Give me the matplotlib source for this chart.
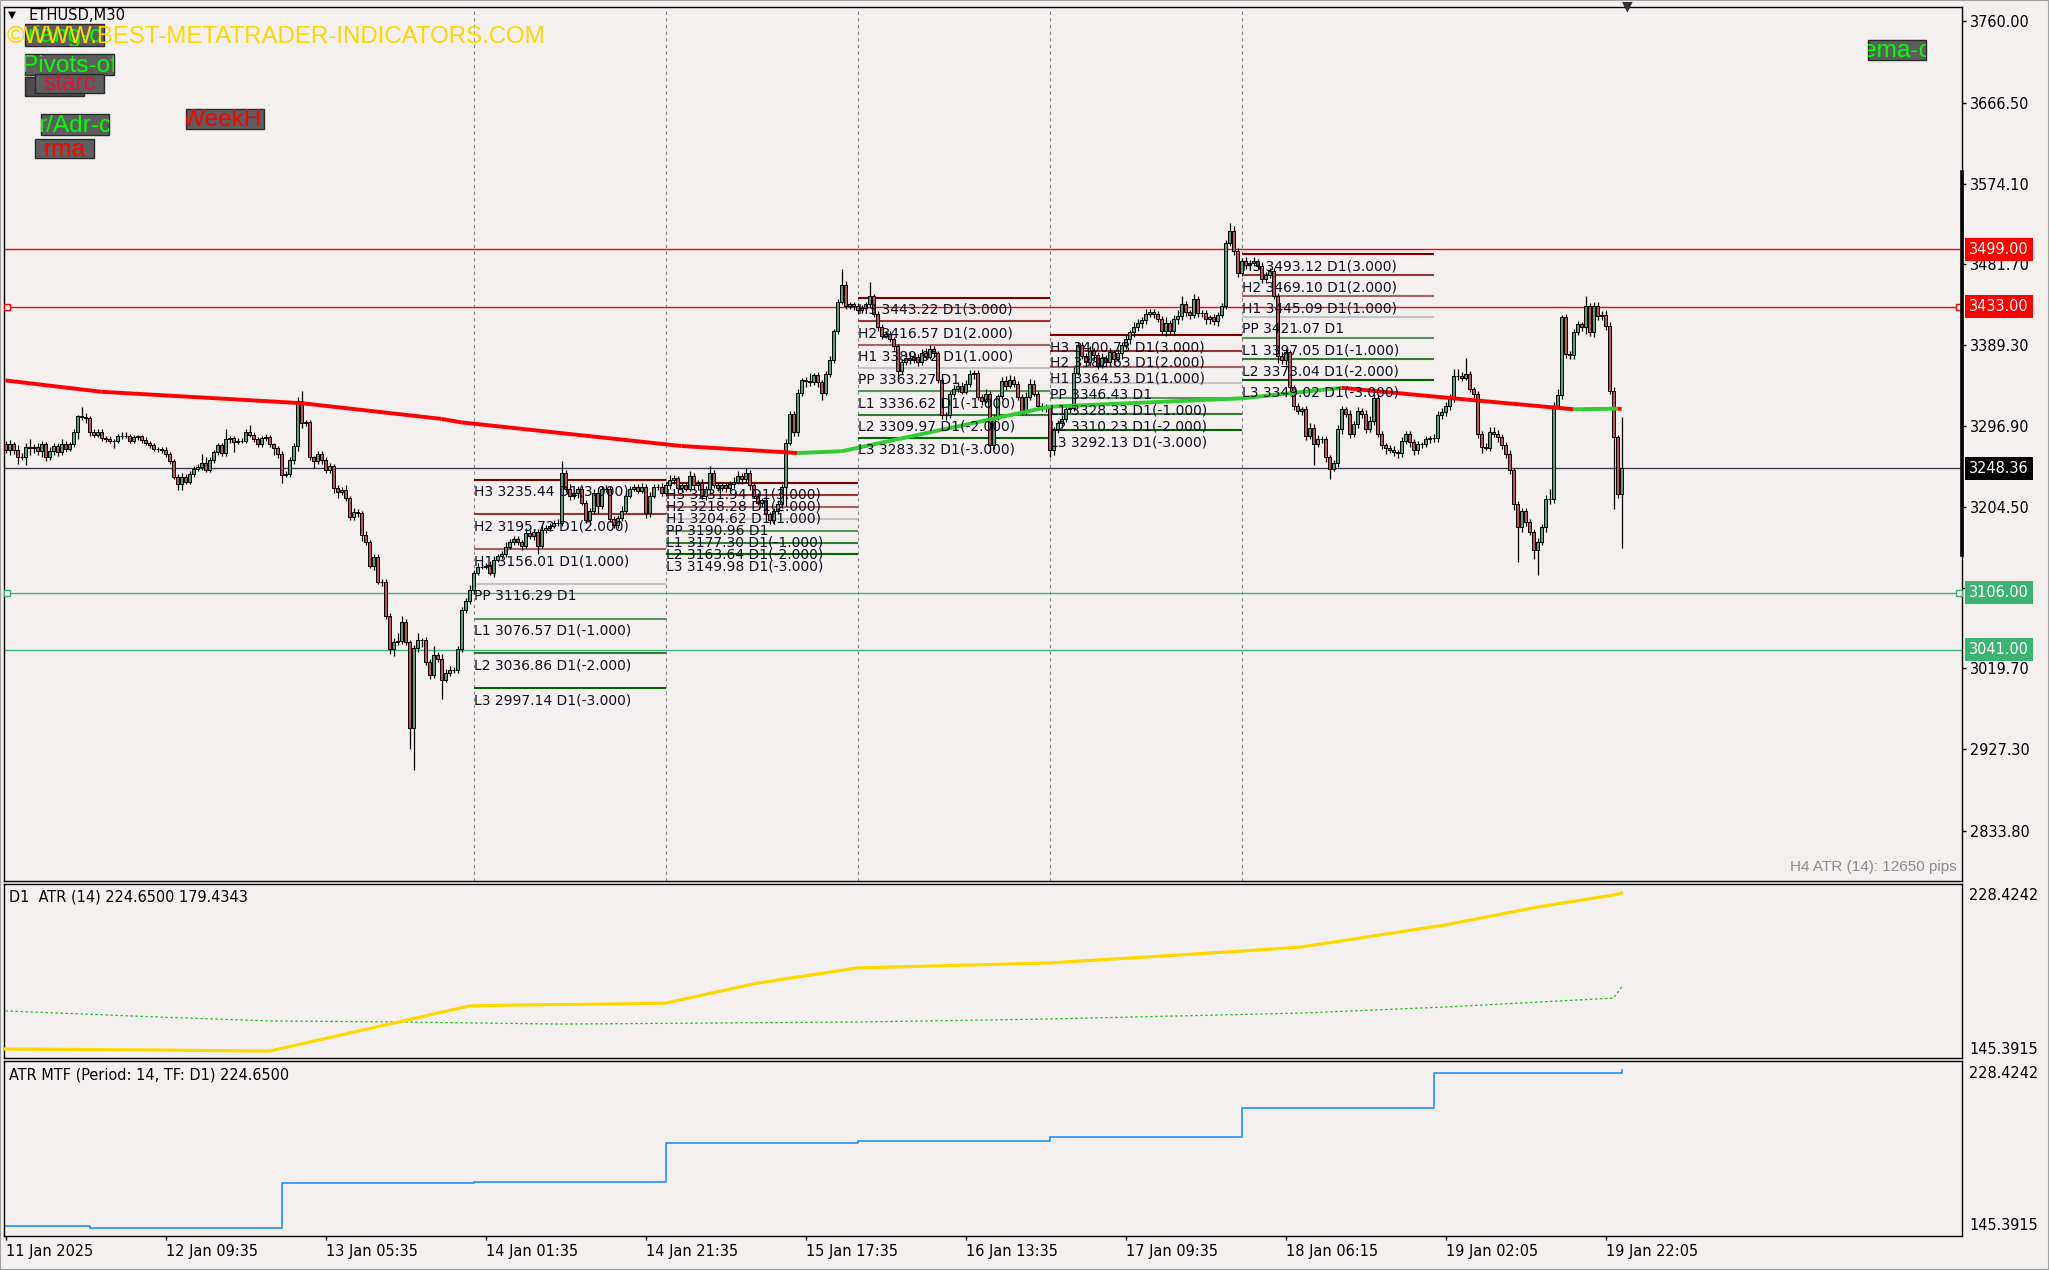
import matplotlib.pyplot as plt
import matplotlib.transforms as mtransforms
import numpy as np
from matplotlib import font_manager
from matplotlib.collections import LineCollection
from matplotlib.font_manager import FontProperties
from matplotlib.patches import Rectangle
from matplotlib.textpath import TextPath

# ---- dane (ETHUSD M30) ----
first_open = 3276
closes = [
    3269, 3276, 3269, 3262, 3262, 3273, 3272, 3273, 3268, 3276, 3261, 3268, 3274, 3267, 3276, 3271, 3276, 3290, 3308, 3307,
    3306, 3290, 3287, 3290, 3283, 3282, 3280, 3280, 3285, 3286, 3286, 3280, 3284, 3285, 3281, 3278, 3275, 3271, 3271, 3270,
    3265, 3257, 3239, 3230, 3239, 3233, 3242, 3248, 3250, 3255, 3247, 3258, 3267, 3275, 3266, 3282, 3283, 3279, 3280, 3280,
    3290, 3287, 3282, 3276, 3283, 3284, 3276, 3272, 3265, 3241, 3242, 3258, 3274, 3325, 3300, 3301, 3261, 3257, 3265, 3258,
    3246, 3251, 3226, 3221, 3224, 3214, 3193, 3199, 3197, 3172, 3164, 3137, 3147, 3119, 3119, 3080, 3042, 3050, 3051, 3073,
    3050, 2951, 3043, 3052, 3052, 3027, 3012, 3035, 3030, 3007, 3014, 3018, 3018, 3042, 3086, 3097, 3109, 3129, 3136, 3136,
    3137, 3129, 3144, 3148, 3150, 3159, 3164, 3168, 3164, 3160, 3174, 3171, 3176, 3160, 3178, 3180, 3183, 3186, 3186, 3243,
    3225, 3217, 3220, 3225, 3209, 3189, 3200, 3220, 3205, 3225, 3225, 3191, 3184, 3192, 3200, 3217, 3225, 3227, 3223, 3227,
    3197, 3217, 3227, 3227, 3220, 3229, 3235, 3237, 3226, 3229, 3225, 3240, 3229, 3232, 3217, 3225, 3243, 3229, 3226, 3229,
    3226, 3230, 3233, 3240, 3236, 3243, 3229, 3217, 3209, 3212, 3196, 3189, 3200, 3208, 3227, 3278, 3311, 3290, 3335, 3349,
    3348, 3347, 3355, 3347, 3335, 3356, 3372, 3405, 3439, 3458, 3434, 3436, 3434, 3429, 3432, 3436, 3445, 3425, 3410, 3400,
    3402, 3396, 3388, 3360, 3370, 3375, 3372, 3376, 3370, 3380, 3376, 3385, 3380, 3350, 3310, 3310, 3333, 3339, 3343, 3336,
    3345, 3356, 3357, 3330, 3326, 3334, 3275, 3307, 3331, 3348, 3343, 3350, 3345, 3330, 3314, 3330, 3345, 3334, 3320, 3319,
    3318, 3270, 3293, 3300, 3305, 3316, 3318, 3358, 3389, 3377, 3370, 3383, 3378, 3366, 3375, 3370, 3381, 3374, 3380, 3389,
    3396, 3404, 3410, 3415, 3418, 3425, 3427, 3425, 3419, 3406, 3415, 3406, 3419, 3423, 3436, 3427, 3424, 3442, 3426, 3426,
    3419, 3421, 3417, 3424, 3434, 3506, 3520, 3497, 3472, 3485, 3481, 3483, 3485, 3480, 3465, 3470, 3474, 3445, 3377, 3372,
    3381, 3341, 3320, 3314, 3316, 3286, 3295, 3276, 3282, 3282, 3261, 3248, 3255, 3293, 3316, 3311, 3288, 3299, 3314, 3311,
    3294, 3303, 3329, 3288, 3275, 3272, 3270, 3267, 3266, 3280, 3288, 3279, 3269, 3276, 3276, 3282, 3283, 3283, 3309, 3313,
    3320, 3328, 3354, 3354, 3352, 3356, 3339, 3333, 3288, 3273, 3272, 3290, 3288, 3284, 3275, 3265, 3246, 3208, 3181, 3200,
    3187, 3176, 3155, 3164, 3181, 3213, 3213, 3320, 3332, 3421, 3379, 3378, 3404, 3413, 3410, 3434, 3404, 3434, 3423, 3424,
    3411, 3337, 3284, 3219, 3248.36,
]
# knoty górne / dolne (w $ od korpusu)
wick_up = [
    4, 5, 3, 6, 4, 4, 9, 3, 5, 4, 3, 5, 4, 3, 6, 4, 3, 3, 2, 11,
    5, 2, 3, 4, 3, 2, 3, 2, 3, 4, 4, 2, 3, 2, 2, 3, 2, 3, 2, 2,
    3, 2, 2, 3, 4, 3, 3, 3, 4, 10, 6, 4, 3, 2, 3, 12, 3, 3, 3, 3,
    3, 8, 3, 2, 3, 4, 3, 2, 2, 3, 3, 3, 3, 5, 12, 3, 3, 2, 3, 3,
    3, 4, 3, 3, 3, 5, 3, 4, 3, 3, 5, 3, 4, 3, 3, 3, 3, 4, 9, 7,
    3, 2, 3, 8, 3, 4, 3, 10, 3, 6, 5, 5, 3, 3, 4, 3, 6, 3, 4, 3,
    3, 5, 4, 3, 4, 5, 4, 3, 3, 3, 6, 4, 3, 3, 5, 4, 3, 3, 4, 14,
    4, 5, 5, 3, 3, 3, 3, 5, 3, 3, 4, 3, 3, 3, 5, 3, 3, 3, 3, 5,
    3, 4, 3, 4, 5, 4, 6, 4, 3, 3, 4, 5, 3, 3, 4, 3, 8, 4, 3, 3,
    3, 4, 5, 5, 3, 6, 3, 3, 3, 3, 3, 3, 3, 4, 3, 4, 3, 3, 4, 3,
    4, 9, 3, 4, 3, 4, 5, 3, 3, 18, 5, 3, 3, 3, 3, 3, 16, 3, 3, 3,
    3, 3, 3, 3, 4, 5, 6, 6, 3, 5, 6, 4, 3, 3, 3, 3, 4, 5, 4, 4,
    5, 5, 4, 4, 3, 5, 3, 3, 3, 5, 6, 5, 4, 3, 3, 6, 6, 5, 3, 3,
    3, 3, 3, 4, 4, 5, 3, 6, 4, 4, 3, 5, 3, 3, 5, 3, 5, 3, 5, 4,
    5, 3, 6, 4, 3, 6, 4, 4, 3, 4, 6, 3, 5, 6, 10, 4, 3, 6, 4, 3,
    4, 3, 4, 3, 3, 4, 9, 6, 3, 4, 5, 4, 5, 3, 4, 3, 4, 3, 4, 5,
    5, 3, 3, 3, 3, 4, 5, 4, 5, 3, 4, 3, 3, 5, 4, 3, 4, 4, 5, 3,
    4, 5, 4, 3, 3, 3, 3, 4, 3, 4, 3, 3, 3, 4, 3, 3, 3, 5, 5, 4,
    4, 5, 8, 8, 5, 19, 4, 3, 4, 3, 4, 6, 6, 4, 4, 4, 4, 3, 3, 3,
    3, 3, 3, 5, 4, 5, 12, 4, 7, 3, 4, 4, 4, 4, 3, 12, 3, 5, 5, 4,
    6, 5, 5, 3, 59,
]
wick_dn = [
    3, 5, 4, 8, 4, 10, 8, 6, 4, 7, 4, 3, 4, 4, 3, 4, 3, 3, 8, 3,
    6, 4, 3, 3, 3, 3, 3, 8, 3, 3, 3, 3, 3, 3, 3, 3, 3, 3, 4, 4,
    3, 3, 3, 6, 6, 3, 3, 3, 3, 3, 3, 3, 3, 3, 3, 3, 4, 12, 3, 3,
    3, 3, 3, 3, 3, 3, 3, 8, 5, 9, 3, 3, 4, 6, 5, 3, 3, 8, 4, 4,
    3, 3, 6, 7, 3, 3, 4, 4, 4, 7, 3, 3, 5, 3, 5, 4, 6, 8, 3, 3,
    4, 24, 47, 4, 8, 3, 4, 3, 3, 22, 3, 3, 3, 4, 3, 3, 4, 4, 3, 3,
    3, 3, 5, 3, 3, 3, 3, 3, 3, 5, 3, 3, 4, 10, 3, 3, 3, 3, 3, 3,
    4, 5, 4, 5, 3, 3, 5, 4, 8, 3, 4, 4, 4, 4, 4, 3, 3, 3, 3, 3,
    5, 4, 3, 3, 3, 3, 4, 4, 6, 5, 3, 3, 5, 5, 4, 5, 6, 3, 3, 4,
    5, 3, 4, 3, 5, 3, 5, 3, 3, 5, 3, 4, 4, 4, 5, 22, 3, 4, 4, 4,
    6, 4, 3, 6, 8, 3, 3, 3, 3, 3, 3, 3, 5, 4, 3, 3, 4, 3, 4, 4,
    3, 3, 4, 7, 4, 3, 4, 3, 4, 3, 3, 3, 4, 4, 5, 6, 4, 3, 3, 3,
    3, 4, 5, 3, 5, 3, 8, 4, 3, 3, 5, 3, 3, 3, 5, 5, 3, 3, 5, 5,
    5, 8, 6, 4, 5, 3, 4, 4, 3, 4, 4, 5, 6, 4, 3, 5, 4, 7, 4, 6,
    4, 5, 5, 5, 6, 4, 3, 5, 3, 5, 6, 5, 4, 5, 5, 4, 5, 4, 5, 5,
    5, 6, 5, 6, 4, 3, 3, 5, 5, 4, 5, 5, 3, 4, 5, 5, 4, 3, 8, 4,
    5, 4, 5, 3, 5, 5, 4, 24, 3, 4, 5, 12, 3, 5, 5, 4, 5, 4, 4, 5,
    5, 4, 5, 4, 4, 7, 4, 4, 6, 5, 4, 6, 5, 4, 4, 3, 4, 4, 4, 4,
    5, 5, 4, 4, 4, 3, 3, 4, 5, 7, 3, 4, 4, 5, 4, 5, 4, 7, 40, 5,
    4, 4, 10, 29, 3, 5, 5, 4, 3, 4, 4, 5, 4, 3, 4, 8, 4, 5, 5, 5,
    4, 4, 82, 5, 62,
]

# średnia krocząca (punkty odczytane: indeks świecy, cena)
ema_idx = [0, 24, 74, 109, 114, 169, 198, 209, 261, 309, 334, 362, 392, 403, 404]
ema_val = [3349, 3336, 3323, 3305, 3301, 3274, 3266, 3268, 3319, 3328.5, 3340.5, 3328.5, 3316, 3316.7, 3316.5]

# pivoty dzienne
piv_start = [117, 165, 213, 261, 309]
piv_len = 48
piv_names = ['H3', 'H2', 'H1', 'PP', 'L1', 'L2', 'L3']
piv_tags = [' D1(3.000)', ' D1(2.000)', ' D1(1.000)', ' D1', ' D1(-1.000)', ' D1(-2.000)', ' D1(-3.000)']
piv_levels = [
    [3235.44, 3195.72, 3156.01, 3116.29, 3076.57, 3036.86, 2997.14],
    [3231.94, 3218.28, 3204.62, 3190.96, 3177.30, 3163.64, 3149.98],
    [3443.22, 3416.57, 3389.92, 3363.27, 3336.62, 3309.97, 3283.32],
    [3400.73, 3382.63, 3364.53, 3346.43, 3328.33, 3310.23, 3292.13],
    [3493.12, 3469.10, 3445.09, 3421.07, 3397.05, 3373.04, 3349.02],
]
piv_colors = ['#800000', '#983434', '#A86262', '#C4C4C4', '#5E9060', '#347A38', '#006400']

# linie poziome + etykiety na osi
hlines = [3499.00, 3433.00, 3248.36, 3106.00, 3041.00]
hline_colors = ['#FF0000', '#FF0000', '#3C3C50', '#3CB371', '#3CB371']
hbox_colors = ['#FF0000', '#FF0000', '#000000', '#3CB371', '#3CB371']
range_bar = (3587.3, 3149.4)

price_ticks = [3760.00, 3666.50, 3574.10, 3481.70, 3389.30, 3296.90, 3204.50, 3112.10, 3019.70, 2927.30, 2833.80]
time_idx = [0, 40, 80, 120, 160, 200, 240, 280, 320, 360, 400]
time_labels = ['11 Jan 2025', '12 Jan 09:35', '13 Jan 05:35', '14 Jan 01:35', '14 Jan 21:35', '15 Jan 17:35',
               '16 Jan 13:35', '17 Jan 09:35', '18 Jan 06:15', '19 Jan 02:05', '19 Jan 22:05']

# ATR D1 (żółta) i druga linia (zielona kropkowana)
atr_idx = [0, 38, 66, 116, 128, 154, 165, 188, 213, 261, 309, 324, 360, 383, 402, 404]
atr_val = [149.6, 149.1, 148.6, 170.3, 170.8, 171.3, 171.7, 181.3, 188.6, 191.0, 196.7, 198.7, 209.3, 217.9, 223.7, 224.65]
atr2_idx = [0, 38, 66, 99, 139, 213, 260, 324, 360, 402, 404]
atr2_val = [167.9, 165.0, 163.1, 162.6, 161.6, 162.6, 164.0, 166.9, 169.8, 174.1, 179.43]

# ATR MTF (schodki)
mtf_idx = [0, 21, 69, 117, 165, 213, 261, 309, 357, 403, 404]
mtf_val = [150.0, 149.1, 170.6, 171.1, 189.8, 190.7, 192.6, 206.5, 223.4, 223.4, 224.65]

BG = '#F3F0EF'
BULL = '#52A07A'
BEAR = '#BE505F'


# --- czcionki: szukamy wąskiej (jak w MT), rozmiar dobierany do szerokości tekstu ---
def pick_narrow():
    fl = font_manager.fontManager.ttflist
    for f in fl:
        if f.name == 'Liberation Sans Narrow' and f.style == 'normal' and f.weight in (400, 'normal', 'regular'):
            return f.fname
    for name in ['DejaVu Sans', 'Noto Sans', 'Roboto', 'Open Sans', 'Roboto Condensed', 'Noto Sans Condensed']:
        for f in fl:
            if (f.name == name and f.style == 'normal' and f.weight in (400, 'normal', 'regular')
                    and str(f.stretch) in ('condensed', 'semi-condensed', 'semi-expanded'.replace('expanded', 'condensed'))):
                return f.fname
    return None


def fit_size(text, fp, target_px):
    w = TextPath((0, 0), text, prop=fp, size=10).get_extents().width
    return 10 * target_px / (w * 100 / 72)


nf = pick_narrow()
AXFP = FontProperties(fname=nf) if nf else FontProperties(family='DejaVu Sans')
AX_SIZE = fit_size('3760.00', AXFP, 58)
LIB = FontProperties(family='Liberation Sans')


def axfp(size=None):
    p = AXFP.copy()
    p.set_size(size or AX_SIZE)
    return p


W_PX, H_PX = 2049, 1270
fx = lambda px: px / W_PX
fy = lambda py: 1 - py / H_PX

fig = plt.figure(figsize=(20.49, 12.70), dpi=100, facecolor=BG)
L, R = 4, 1962


def panel(top, bottom):
    a = fig.add_axes([fx(L), fy(bottom), fx(R - L), (bottom - top) / H_PX], facecolor=BG)
    a.set_xlim(-0.375, 489.1)
    for s in a.spines.values():
        s.set_color('black')
        s.set_linewidth(1)
    return a


ax = panel(7, 881)
ax2 = panel(884, 1058)
ax3 = panel(1061, 1236)

# ---- wykres główny ----
n = len(closes)
x = np.arange(n)
c = np.array(closes, dtype=float)
o = np.array([first_open] + closes[:-1], dtype=float)
hi = np.maximum(o, c) + np.array(wick_up)
lo = np.minimum(o, c) - np.array(wick_dn)

ax.set_ylim(2776.6, 3776.0)

for d in piv_start:
    ax.axvline(d, color='#8A8A8A', lw=0.8, ls=(0, (3, 3)), zorder=1)

for lvl, col in zip(hlines, hline_colors):
    ax.axhline(lvl, color=col, lw=1, zorder=2)

ax.vlines(x, lo, hi, color='black', lw=0.9, zorder=3)
up = c >= o
ax.bar(x[up], (c - o)[up], bottom=o[up], width=0.72, color=BULL, edgecolor='black', lw=0.7, zorder=4)
ax.bar(x[~up], (o - c)[~up], bottom=c[~up], width=0.72, color=BEAR, edgecolor='black', lw=0.7, zorder=4)

# EMA: czerwona gdy spada, zielona gdy rośnie
pts = np.column_stack([ema_idx, ema_val])
segs = np.stack([pts[:-1], pts[1:]], axis=1)
seg_cols = ['#32CD32' if b > a else '#FF0000' for a, b in zip(ema_val[:-1], ema_val[1:])]
ax.add_collection(LineCollection(segs, colors=seg_cols, linewidths=2.8, zorder=5, capstyle='butt'))

for s0, lv in zip(piv_start, piv_levels):
    for k in range(7):
        ax.plot([s0, s0 + piv_len], [lv[k], lv[k]], color=piv_colors[k], lw=1.5, zorder=2, solid_capstyle='butt')
        ax.annotate(f'{piv_names[k]} {lv[k]:.2f}{piv_tags[k]}', (s0, lv[k]), xytext=(0, -8.6),
                    textcoords='offset points', ha='left', va='center', fontsize=10,
                    family='DejaVu Sans', color='#101020', zorder=6)

trans = mtransforms.blended_transform_factory(ax.transAxes, ax.transData)
ax.plot([1.0, 1.0], list(range_bar), transform=trans, color='black', lw=2.6, clip_on=False, zorder=8)
for lvl, col in [(3433.00, '#FF0000'), (3106.00, '#3CB371')]:
    ax.plot([(7 - L) / (R - L), (1959 - L) / (R - L)], [lvl, lvl], transform=trans, ls='none', marker='s',
            ms=4, mfc=BG, mec=col, mew=1, zorder=7)

ax.yaxis.tick_right()
ax.set_yticks(price_ticks)
ax.set_yticklabels([f'{t:.2f}' for t in price_ticks], fontproperties=axfp())
ax.tick_params(axis='y', direction='out', length=3, width=1, pad=3, colors='black')
ax.set_xticks([])

for lvl, col in zip(hlines, hbox_colors):
    ax.text((1969 - L) / (R - L), lvl, f'{lvl:.2f}', transform=trans, ha='left', va='center', color='white',
            fontproperties=axfp(), bbox=dict(boxstyle='square,pad=0.25', fc=col, ec='none'),
            clip_on=False, zorder=10)

# ---- ATR D1 ----
for a in (ax2, ax3):
    a.set_ylim(145.27, 228.98)
    a.set_yticks([])
ax2.set_xticks([])
ax2.plot(atr_idx, atr_val, color='#FFD700', lw=2.3, zorder=3)
ax2.plot(atr2_idx, atr2_val, color='#22C022', lw=0.9, ls=(0, (2, 2)), zorder=2)

# ---- ATR MTF ----
ax3.plot(mtf_idx, mtf_val, color='#1E90FF', lw=1.2, drawstyle='steps-post')
ax3.set_xticks(time_idx)
ax3.set_xticklabels(time_labels, ha='left', fontproperties=axfp())
ax3.tick_params(axis='x', direction='out', length=3, width=1, pad=3, colors='black')

for py, txt in [(895, '228.4242'), (1050, '145.3915'), (1073, '228.4242'), (1226, '145.3915')]:
    fig.text(fx(1969), fy(py), txt, ha='left', va='center', fontproperties=axfp(), color='black')
fig.text(fx(9), fy(897), 'D1  ATR (14) 224.6500 179.4343', ha='left', va='center', fontproperties=axfp())
fig.text(fx(9), fy(1075), 'ATR MTF (Period: 14, TF: D1) 224.6500', ha='left', va='center', fontproperties=axfp())
fig.text(fx(1957), fy(867), 'H4 ATR (14): 12650 pips', ha='right', va='center', fontsize=11,
         family='Liberation Sans', color='#8C8C8C')

# ---- przyciski i napisy w rogu ----
buttons = [
    (25, 24, 104, 46, 'riang-c', '#00FF00'),
    (25, 54, 114, 75, 'Pivots-of', '#00FF00'),
    (25, 77, 84, 96, '', '#00FF00'),
    (35, 74, 104, 93, 'starc', '#DC143C'),
    (41, 114, 109, 135, 'r/Adr-c', '#00FF00'),
    (35, 139, 94, 158, 'rma', '#FF0000'),
    (186, 109, 264, 129, '(WeekHL', '#FF0000'),
    (1868, 40, 1926, 60, 'ema-c', '#00FF00'),
]
btn_size = fit_size('Pivots-of', LIB, 93)
for x0, y0, x1, y1, txt, col in buttons:
    rect = Rectangle((fx(x0), fy(y1)), fx(x1 - x0), (y1 - y0) / H_PX, transform=fig.transFigure,
                     fc='#4C4C4C' if not txt else '#5E5E5E', ec='#2A2A2A', lw=1, zorder=5)
    fig.add_artist(rect)
    if txt:
        t = fig.text(fx((x0 + x1) / 2), fy((y0 + y1) / 2 + 1), txt, ha='center', va='center', color=col,
                     fontsize=btn_size, family='Liberation Sans', zorder=6)
        t.set_clip_path(rect)

wm = '©WWW.BEST-METATRADER-INDICATORS.COM'
fig.text(fx(7), fy(37), wm, ha='left', va='center', color='#FFD700',
         fontsize=fit_size(wm, LIB, 535), family='Liberation Sans', zorder=7)
fig.text(fx(8), fy(15), '▼', ha='left', va='center', fontsize=7.5, family='DejaVu Sans', zorder=7)
fig.text(fx(28), fy(16), 'ETHUSD,M30', ha='left', va='center',
         fontproperties=axfp(fit_size('ETHUSD,M30', AXFP, 95)), zorder=7)
fig.text(fx(1627), fy(6), '▼', ha='center', va='center', fontsize=10, family='DejaVu Sans', color='#303030', zorder=7)

fig.add_artist(Rectangle((0, 0), 1, 1, transform=fig.transFigure, fill=False, ec='#A0A0A0', lw=1.5))

fig.savefig('out.png', dpi=100, facecolor=BG)
